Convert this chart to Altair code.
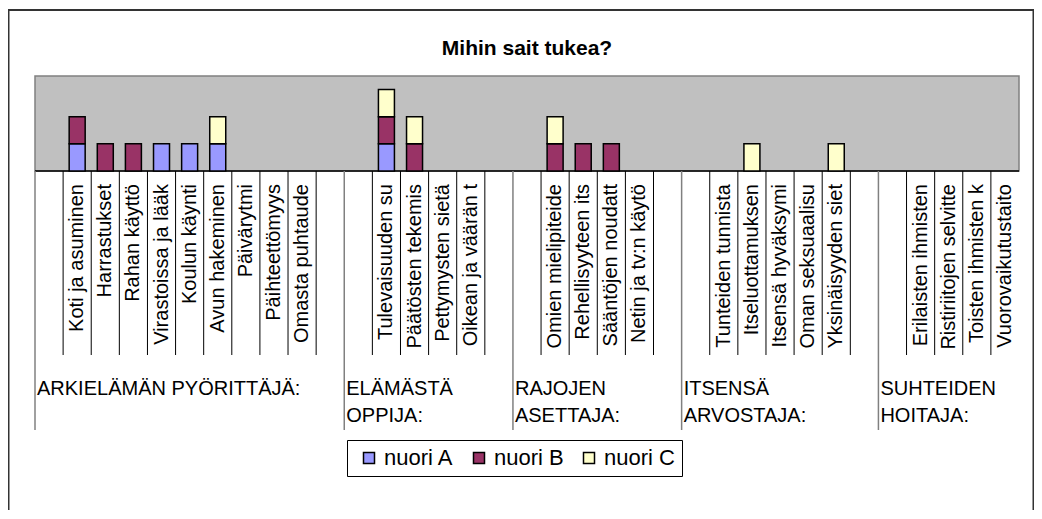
import altair as alt
import pandas as pd

# ---------------- data ----------------
chart_title = "Mihin sait tukea?"
series_names = ["nuori A", "nuori B", "nuori C"]
series_colors = ["#9999FF", "#993366", "#FFFFCC"]

group_names = [
    "ARKIELÄMÄN PYÖRITTÄJÄ:",
    "ELÄMÄSTÄ\nOPPIJA:",
    "RAJOJEN\nASETTAJA:",
    "ITSENSÄ\nARVOSTAJA:",
    "SUHTEIDEN\nHOITAJA:",
]

items_arkielaman = ["", "Koti ja asuminen", "Harrastukset", "Rahan käyttö",
                    "Virastoissa ja lääk", "Koulun käynti", "Avun hakeminen",
                    "Päivärytmi", "Päihteettömyys", "Omasta puhtaude", ""]
items_elamasta = ["", "Tulevaisuuden su", "Päätösten tekemis",
                  "Pettymysten sietä", "Oikean ja väärän t", ""]
items_rajojen = ["", "Omien mielipiteide", "Rehellisyyteen its",
                 "Sääntöjen noudatt", "Netin ja tv:n käytö", ""]
items_itsensa = ["", "Tunteiden tunnista", "Itseluottamuksen",
                 "Itsensä hyväksymi", "Oman seksuaalisu", "Yksinäisyyden siet", ""]
items_suhteiden = ["", "Erilaisten ihmisten", "Ristiriitojen selvitte",
                   "Toisten ihmisten k", "Vuorovaikutustaito"]

nuori_A = [0, 1, 0, 0, 1, 1, 1, 0, 0, 0, 0,
           0, 1, 0, 0, 0, 0,
           0, 0, 0, 0, 0, 0,
           0, 0, 0, 0, 0, 0, 0,
           0, 0, 0, 0, 0]
nuori_B = [0, 1, 1, 1, 0, 0, 0, 0, 0, 0, 0,
           0, 1, 1, 0, 0, 0,
           0, 1, 1, 1, 0, 0,
           0, 0, 0, 0, 0, 0, 0,
           0, 0, 0, 0, 0]
nuori_C = [0, 0, 0, 0, 0, 0, 1, 0, 0, 0, 0,
           0, 1, 1, 0, 0, 0,
           0, 1, 0, 0, 0, 0,
           0, 0, 1, 0, 0, 1, 0,
           0, 0, 0, 0, 0]

y_max = 3.5

# ---------------- layout constants ----------------
FONT = "Liberation Sans"
PLOT_W = 994
BAR_H = 95           # px height of grey plot area
VIEW_H = 354         # px: plot area + category label area
PX = BAR_H / y_max   # px per unit
Y_LOW = -(VIEW_H - BAR_H) / PX


def below(px):
    return -px / PX


group_items = [items_arkielaman, items_elamasta, items_rajojen, items_itsensa, items_suhteiden]
categories = [c for g in group_items for c in g]
N = len(categories)
starts = []
s = 0
for g in group_items:
    starts.append(s)
    s += len(g)

xs = alt.Scale(domain=[0, N], nice=False, zero=False)
ys = alt.Scale(domain=[Y_LOW, y_max], nice=False, zero=False)

# bars (long format, only non-zero segments)
rows = []
for k, (name, vals) in enumerate(zip(series_names, [nuori_A, nuori_B, nuori_C])):
    for i, v in enumerate(vals):
        if v > 0:
            rows.append({"xc": i + 0.5, "v": v, "series": name, "k": k})
bars_df = pd.DataFrame(rows)

bg_df = pd.DataFrame({"x0": [0], "x1": [N], "y0": [0], "y1": [y_max]})
axis_df = pd.DataFrame({"x0": [0], "x1": [N], "y": [0]})
tick_df = pd.DataFrame({"bx": [b for b in range(1, N) if b not in starts]})
tick_df["y0"] = 0
tick_df["y1"] = below(184)
grp_rule_df = pd.DataFrame({"gx": starts})
grp_rule_df["y0"] = 0
grp_rule_df["y1"] = Y_LOW
lab_df = pd.DataFrame({"xc": [i + 0.5 for i in range(N)], "label": categories})
lab_df = lab_df[lab_df["label"] != ""]
lab_df["ly"] = below(13)
grp_df = pd.DataFrame({"gx": starts, "g": group_names})
grp_df["gy"] = below(224)

bg = alt.Chart(bg_df).mark_rect(fill="#C0C0C0", stroke="#808080", strokeWidth=1.5).encode(
    x=alt.X("x0:Q", scale=xs, axis=None), x2="x1:Q",
    y=alt.Y("y0:Q", scale=ys, axis=None), y2="y1:Q")

axis_line = alt.Chart(axis_df).mark_rule(color="black", strokeWidth=1.5).encode(
    x=alt.X("x0:Q", scale=xs, axis=None), x2="x1:Q",
    y=alt.Y("y:Q", scale=ys, axis=None))

bars = alt.Chart(bars_df).mark_bar(size=16, stroke="black", strokeWidth=1.5).encode(
    x=alt.X("xc:Q", scale=xs, axis=None),
    y=alt.Y("v:Q", stack="zero", scale=ys, axis=None),
    color=alt.Color("series:N",
                    scale=alt.Scale(domain=series_names, range=series_colors),
                    legend=alt.Legend(title=None, orient="none", legendX=317, legendY=364,
                                      direction="horizontal", strokeColor="black",
                                      fillColor="white", padding=7, symbolType="square",
                                      symbolSize=121, symbolStrokeColor="black",
                                      symbolStrokeWidth=1.5, symbolOffset=4,
                                      labelFontSize=22, labelFont=FONT, labelColor="black",
                                      labelOffset=4, columnPadding=10)),
    order=alt.Order("k:Q"))

ticks = alt.Chart(tick_df).mark_rule(color="black", strokeWidth=1).encode(
    x=alt.X("bx:Q", scale=xs, axis=None),
    y=alt.Y("y0:Q", scale=ys, axis=None), y2="y1:Q")

grp_rules = alt.Chart(grp_rule_df).mark_rule(color="#808080", strokeWidth=1.5).encode(
    x=alt.X("gx:Q", scale=xs, axis=None),
    y=alt.Y("y0:Q", scale=ys, axis=None), y2="y1:Q")

labels = alt.Chart(lab_df).mark_text(angle=270, align="right", baseline="middle",
                                     font=FONT, fontSize=20, color="black").encode(
    x=alt.X("xc:Q", scale=xs, axis=None),
    y=alt.Y("ly:Q", scale=ys, axis=None),
    text="label:N")

grp_labels = alt.Chart(grp_df).mark_text(align="left", baseline="alphabetic", dx=2,
                                         lineBreak="\n", lineHeight=27,
                                         font=FONT, fontSize=20, color="black").encode(
    x=alt.X("gx:Q", scale=xs, axis=None),
    y=alt.Y("gy:Q", scale=ys, axis=None),
    text="g:N")

frame = alt.Chart(pd.DataFrame({"f": [0]})).mark_rect(
    fillOpacity=0, stroke="#333333", strokeWidth=2).encode(
    x=alt.value(-21.5), x2=alt.value(1003.5), y=alt.value(-66), y2=alt.value(470))

chart = alt.layer(bg, axis_line, bars, ticks, grp_rules, labels, grp_labels, frame).properties(
    width=PLOT_W, height=VIEW_H,
    title=alt.TitleParams(chart_title, fontSize=21, font=FONT, fontWeight="bold",
                          anchor="middle", offset=17, dy=67, color="black"),
    autosize=alt.AutoSizeParams(type="none"),
    padding={"left": 22, "top": 68, "right": 10, "bottom": 80},
    background="white",
).configure_view(stroke=None)

chart.save("out.html", embed_options={"renderer": "svg", "actions": False})
